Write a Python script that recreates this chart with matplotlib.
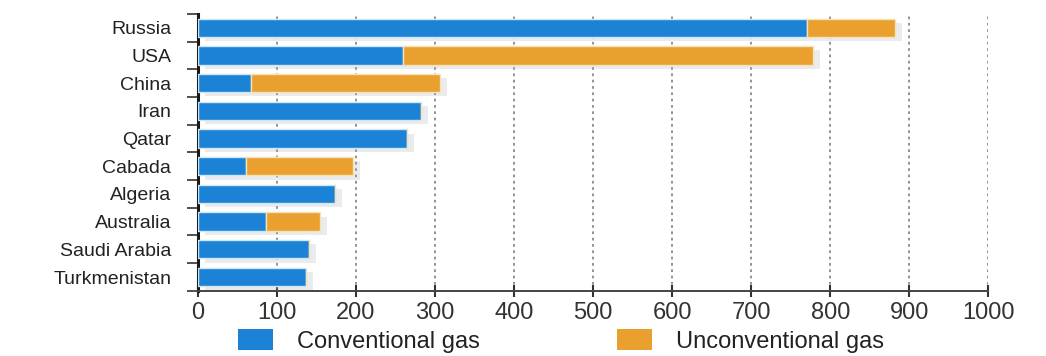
import numpy as np
import matplotlib
matplotlib.use('Agg')
import matplotlib.pyplot as plt
import matplotlib.patheffects as pe
from matplotlib.patches import Patch

# data (tcm, approx)
countries = ['Russia', 'USA', 'China', 'Iran', 'Qatar', 'Cabada',
             'Algeria', 'Australia', 'Saudi Arabia', 'Turkmenistan']
conventional = [770, 260, 67, 283, 265, 61, 174, 86, 141, 137]
unconventional = [112, 518, 239, 0, 0, 136, 0, 69, 0, 0]
xticks = [0, 100, 200, 300, 400, 500, 600, 700, 800, 900, 1000]

blue = '#1c82d6'
orange = '#eaa02e'

plt.rcParams['font.family'] = ['Liberation Sans', 'DejaVu Sans']

fig = plt.figure(figsize=(10.46, 3.56), dpi=100)
ax = fig.add_axes([0.189, 0.183, 0.756, 0.778])

y = np.arange(len(countries))
shadow = [pe.SimplePatchShadow(offset=(5, -3), shadow_rgbFace='#a8b0b8', alpha=0.25), pe.Normal()]
b1 = ax.barh(y, conventional, height=0.66, color=blue, edgecolor='#cfe6f7', linewidth=1.0, zorder=3)
b2 = ax.barh(y, unconventional, left=conventional, height=0.66, color=orange,
             edgecolor='#f6e2b8', linewidth=1.0, zorder=3)
for bar in list(b1) + list(b2):
    if bar.get_width() > 0:
        bar.set_path_effects(shadow)

ax.set_xlim(0, 1000)
ax.set_ylim(len(countries) - 0.5, -0.5)
ax.set_yticks(y)
ax.set_yticklabels(countries, fontsize=14, color='#222222')
ax.set_yticks(np.arange(len(countries) + 1) - 0.5, minor=True)
ax.tick_params(axis='y', which='major', length=0, pad=19)
ax.tick_params(axis='y', which='minor', length=8, width=1.2, color='#333333', direction='out')

ax.set_xticks(xticks)
ax.set_xticklabels([str(v) for v in xticks], fontsize=17, color='#333333')
ax.tick_params(axis='x', direction='inout', length=8, width=1.5, color='#333333', pad=4)

for v in xticks[1:]:
    ax.axvline(v, color='#8a8a8a', linestyle=(0, (1.5, 2)), linewidth=1.3, zorder=1)

for s in ['top', 'right']:
    ax.spines[s].set_visible(False)
ax.spines['left'].set_linewidth(2.2)
ax.spines['left'].set_color('#1a1a1a')
ax.spines['bottom'].set_linewidth(1.4)
ax.spines['bottom'].set_color('#444444')

handles = [Patch(facecolor=blue, edgecolor='none', label='Conventional gas'),
           Patch(facecolor=orange, edgecolor='none', label='Unconventional gas')]
fig.legend(handles=handles, loc='center left', bbox_to_anchor=(0.216, 0.042), ncol=2,
           frameon=False, fontsize=17, handlelength=1.5, handleheight=1.0, borderpad=0,
           columnspacing=5.8, handletextpad=1.0, labelcolor='#222222')

fig.savefig('out.png', dpi=100)
